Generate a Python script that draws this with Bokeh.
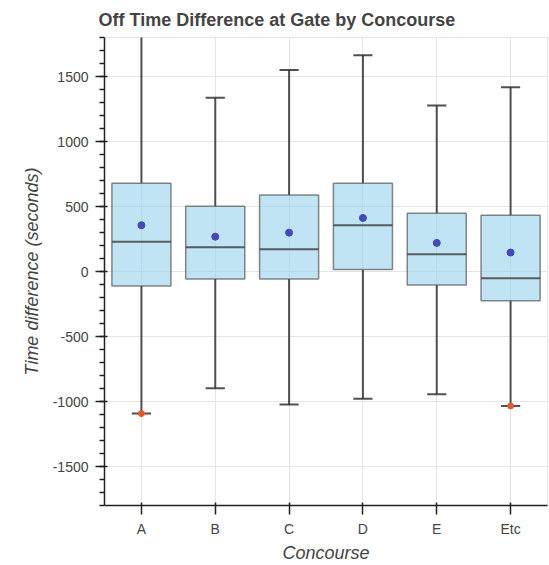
from bokeh.plotting import figure
from bokeh.models import FactorRange, Range1d, ColumnDataSource, NumeralTickFormatter
from bokeh.transform import dodge
from bokeh.embed import file_html
from bokeh.resources import INLINE

concourse = ["A", "B", "C", "D", "E", "Etc"]
q1 = [-112, -58, -58, 15, -104, -225]
median = [228, 187, 172, 356, 133, -51]
q3 = [678, 501, 588, 678, 448, 433]
mean = [356, 268, 299, 412, 220, 146]
upper = [2000, 1336, 1550, 1664, 1277, 1418]
lower = [-1093, -899, -1024, -978, -945, -1034]
outlier_cat = ["A", "Etc"]
outlier_val = [-1093, -1034]

FONT = "Liberation Sans"

src = ColumnDataSource(dict(cat=concourse, q1=q1, median=median, q3=q3,
                            mean=mean, upper=upper, lower=lower))
osrc = ColumnDataSource(dict(cat=outlier_cat, val=outlier_val))

p = figure(width=549, height=565, output_backend="svg", toolbar_location=None,
           x_range=FactorRange(*concourse), y_range=Range1d(-1800, 1800),
           title="Off Time Difference at Gate by Concourse",
           min_border_left=104, min_border_right=2, min_border_top=37, min_border_bottom=59)

p.title.text_font = FONT
p.title.text_font_size = "18px"
p.title.text_font_style = "bold"
p.title.text_color = "#444444"
p.title.offset = -6
p.title.standoff = 15

for ax in (p.xaxis[0], p.yaxis[0]):
    ax.axis_label_text_font = FONT
    ax.axis_label_text_font_size = "18px"
    ax.axis_label_text_font_style = "italic"
    ax.axis_label_text_color = "#444444"
    ax.major_label_text_font = FONT
    ax.major_label_text_font_size = "14px"
    ax.major_label_text_color = "#444444"
    ax.major_tick_in = 3
    ax.major_tick_out = 9
    ax.minor_tick_out = 5
    ax.axis_line_color = "#222222"
    ax.major_tick_line_color = "#222222"
    ax.minor_tick_line_color = "#222222"
    ax.axis_line_width = 1.5
    ax.major_tick_line_width = 1.5
    ax.minor_tick_line_width = 1.5

p.xaxis.axis_label = "Concourse"
p.yaxis.axis_label = "Time difference (seconds)"
p.yaxis.ticker.desired_num_ticks = 8
p.yaxis.formatter = NumeralTickFormatter(format="0")
p.xaxis.major_label_standoff = 6
p.xaxis.axis_label_standoff = 3
p.yaxis.major_label_standoff = 7
p.yaxis.axis_label_standoff = 8

# whiskers
p.segment(x0="cat", y0="q3", x1="cat", y1="upper", source=src, line_color="#333333", line_width=2, line_alpha=0.85)
p.segment(x0="cat", y0="q1", x1="cat", y1="lower", source=src, line_color="#333333", line_width=2, line_alpha=0.85)
# caps
p.segment(x0=dodge("cat", -0.13, range=p.x_range), y0="upper",
          x1=dodge("cat", 0.13, range=p.x_range), y1="upper",
          source=src, line_color="#333333", line_width=2, line_alpha=0.85)
p.segment(x0=dodge("cat", -0.13, range=p.x_range), y0="lower",
          x1=dodge("cat", 0.13, range=p.x_range), y1="lower",
          source=src, line_color="#333333", line_width=2, line_alpha=0.85)

# boxes
p.vbar(x="cat", width=0.8, top="q3", bottom="q1", source=src,
       fill_color="#96d2eb", fill_alpha=0.6, line_color="#555555", line_alpha=0.7, line_width=1.5)
# median
p.segment(x0=dodge("cat", -0.4, range=p.x_range), y0="median",
          x1=dodge("cat", 0.4, range=p.x_range), y1="median",
          source=src, line_color="#444444", line_width=2, line_alpha=0.85)
# mean
p.scatter(x="cat", y="mean", source=src, size=7, fill_color="#4348bd", line_color="#4348bd")
# outliers
p.scatter(x="cat", y="val", source=osrc, size=6, fill_color="#e8572a", line_color="#e8572a")

open("out.html", "w").write(file_html(p, INLINE))
